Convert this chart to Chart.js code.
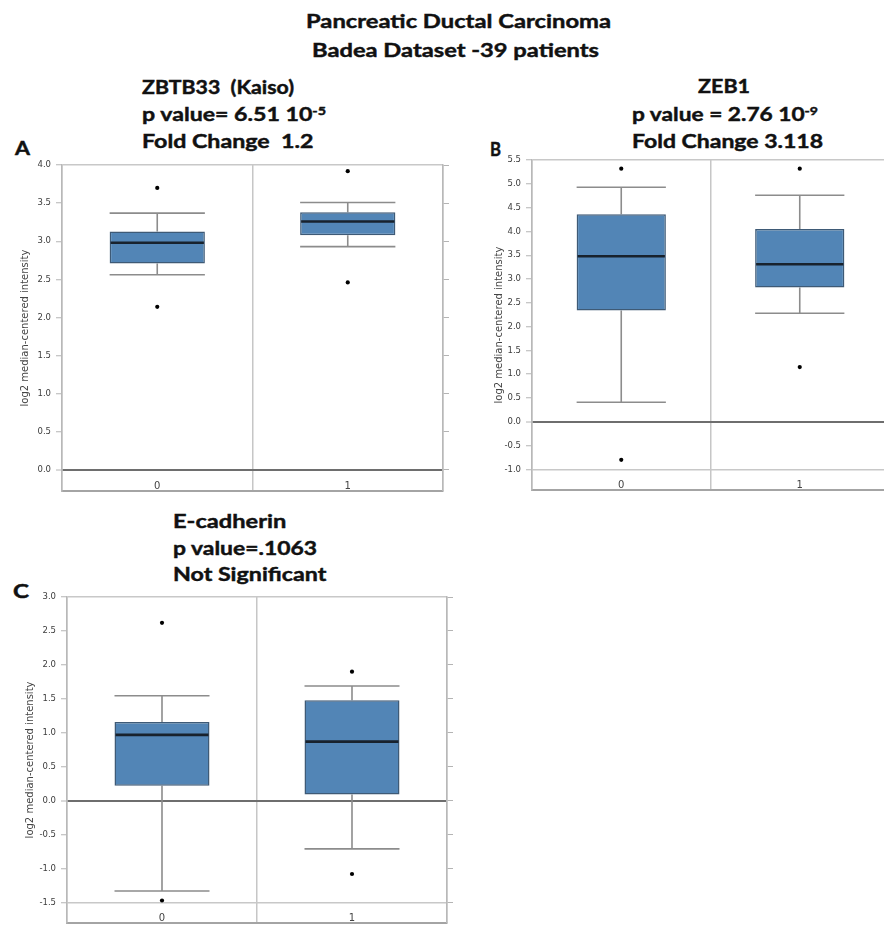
<!DOCTYPE html>
<html>
<head>
<meta charset="utf-8">
<script src="https://cdn.jsdelivr.net/npm/chart.js@4.4.1/dist/chart.umd.min.js"></script>
<style>
  html, body { margin: 0; padding: 0; background: #ffffff; overflow: hidden; }
  body { width: 884px; height: 927px; position: relative; }
  canvas { position: absolute; }
  .t { position: absolute; white-space: nowrap; font-family: Lato, "Open Sans", sans-serif; font-weight: 700;
       font-size: 19.5px; line-height: 1.2; color: #111; transform-origin: 0 0;
       -webkit-text-stroke: 0.45px #111; }
  .t sup { font-size: 0.62em; vertical-align: 0.5em; line-height: 1; }
  .L { font-size: 18px; color: #111; }
</style>
</head>
<body>
<div class="t" data-x="306" data-b="28" data-w="305">Pancreatic Ductal Carcinoma</div>
<div class="t" data-x="312" data-b="57" data-w="287">Badea Dataset -39 patients</div>

<div class="t" data-x="141.5" data-b="94" data-w="152">ZBTB33&nbsp; (Kaiso)</div>
<div class="t" data-x="141.5" data-b="121" data-w="184">p value= 6.51 10<sup>-5</sup></div>
<div class="t" data-x="141.5" data-b="148" data-w="171.5">Fold Change&nbsp; 1.2</div>

<div class="t" data-x="698" data-b="93" data-w="52">ZEB1</div>
<div class="t" data-x="632" data-b="121" data-w="186">p value = 2.76 10<sup>-9</sup></div>
<div class="t" data-x="632" data-b="148" data-w="191">Fold Change 3.118</div>

<div class="t" data-x="172.7" data-b="528.3" data-w="113.3">E-cadherin</div>
<div class="t" data-x="172.7" data-b="555" data-w="144">p value=.1063</div>
<div class="t" data-x="172.7" data-b="580.7" data-w="153.3">Not Significant</div>

<div class="t L" data-x="15" data-b="155" data-w="15">A</div>
<div class="t L" data-x="490" data-b="156" data-w="11">B</div>
<div class="t L" data-x="13" data-b="598" data-w="16">C</div>

<canvas id="cA" width="455" height="346" style="left:0px; top:155px;"></canvas>
<canvas id="cB" width="432" height="350" style="left:470px; top:150px;"></canvas>
<canvas id="cC" width="460" height="348" style="left:0px; top:585px;"></canvas>

<script>
// ---------------- DATA ----------------
const categories = ['0', '1'];
const yTitle = 'log2 median-centered intensity';

// Panel A: ZBTB33 (Kaiso)
const aQ1     = [2.71, 3.08];
const aQ3     = [3.13, 3.38];
const aMedian = [2.98, 3.26];
const aLow    = [2.56, 2.93];
const aHigh   = [3.37, 3.51];
const aOutHi  = [3.70, 3.92];
const aOutLo  = [2.14, 2.46];
const aTicks  = [0.0, 0.5, 1.0, 1.5, 2.0, 2.5, 3.0, 3.5, 4.0];

// Panel B: ZEB1
const bQ1     = [2.34, 2.82];
const bQ3     = [4.36, 4.05];
const bMedian = [3.48, 3.31];
const bLow    = [0.41, 2.28];
const bHigh   = [4.93, 4.76];
const bOutHi  = [5.32, 5.32];
const bOutLo  = [-0.80, 1.15];
const bTicks  = [-1.0, -0.5, 0.0, 0.5, 1.0, 1.5, 2.0, 2.5, 3.0, 3.5, 4.0, 4.5, 5.0, 5.5];

// Panel C: E-cadherin
const cQ1     = [0.22, 0.09];
const cQ3     = [1.16, 1.48];
const cMedian = [0.97, 0.87];
const cLow    = [-1.33, -0.71];
const cHigh   = [1.545, 1.69];
const cOutHi  = [2.62, 1.90];
const cOutLo  = [-1.47, -1.08];
const cTicks  = [-1.5, -1.0, -0.5, 0.0, 0.5, 1.0, 1.5, 2.0, 2.5, 3.0];

// ---------------- TEXT PLACEMENT ----------------
document.querySelectorAll('.t').forEach(el => {
  const probe = document.createElement('span');
  probe.style.cssText = 'display:inline-block;width:0;height:0;vertical-align:baseline;';
  el.appendChild(probe);
  el.style.left = '0px'; el.style.top = '0px';
  const r0 = el.getBoundingClientRect();
  const baseOff = probe.getBoundingClientRect().top - r0.top;
  el.removeChild(probe);
  const w = el.getBoundingClientRect().width;
  el.style.left = el.dataset.x + 'px';
  el.style.top = (parseFloat(el.dataset.b) - baseOff) + 'px';
  el.style.transform = 'scaleX(' + (parseFloat(el.dataset.w) / w) + ')';
});

// ---------------- CHARTS ----------------
function boxChart(id, d) {
  const whiskers = {
    id: 'whiskers_' + id,
    beforeDatasetsDraw(chart) {
      const ctx = chart.ctx, y = chart.scales.y;
      const meta = chart.getDatasetMeta(0);
      ctx.save();
      ctx.strokeStyle = '#8c8c8c';
      ctx.lineWidth = 1.6;
      meta.data.forEach((bar, i) => {
        const x = bar.x, h = bar.width / 2;
        const yHi = y.getPixelForValue(d.high[i]);
        const yLo = y.getPixelForValue(d.low[i]);
        const yQ3 = y.getPixelForValue(d.q3[i]);
        const yQ1 = y.getPixelForValue(d.q1[i]);
        ctx.beginPath();
        ctx.moveTo(x, yQ3); ctx.lineTo(x, yHi);
        ctx.moveTo(x, yQ1); ctx.lineTo(x, yLo);
        ctx.moveTo(x - h, yHi); ctx.lineTo(x + h, yHi);
        ctx.moveTo(x - h, yLo); ctx.lineTo(x + h, yLo);
        ctx.stroke();
      });
      ctx.restore();
    },
    afterDatasetDraw(chart, args) {
      if (args.index !== 0) return;
      const ctx = chart.ctx, y = chart.scales.y;
      const meta = chart.getDatasetMeta(0);
      ctx.save();
      ctx.strokeStyle = '#18222d';
      ctx.lineWidth = 2.6;
      meta.data.forEach((bar, i) => {
        const ym = y.getPixelForValue(d.median[i]);
        ctx.beginPath();
        ctx.moveTo(bar.x - bar.width / 2 + 1, ym);
        ctx.lineTo(bar.x + bar.width / 2 - 1, ym);
        ctx.stroke();
      });
      ctx.restore();
    }
  };

  const first = d.ticks[0], last = d.ticks[d.ticks.length - 1];
  const setTicks = s => { s.ticks = d.ticks.map(v => ({ value: v })); };

  new Chart(document.getElementById(id), {
    type: 'bar',
    data: {
      labels: categories,
      datasets: [
        {
          data: categories.map((_, i) => [d.q1[i], d.q3[i]]),
          backgroundColor: '#5285b6',
          borderColor: '#3e5a76',
          borderWidth: 1.5,
          borderSkipped: false,
          barPercentage: 0.5,
          categoryPercentage: 1.0
        },
        {
          type: 'line', data: d.outHi, showLine: false,
          pointRadius: 2.1, pointBackgroundColor: '#000', pointBorderWidth: 0
        },
        {
          type: 'line', data: d.outLo, showLine: false,
          pointRadius: 2.1, pointBackgroundColor: '#000', pointBorderWidth: 0
        }
      ]
    },
    options: {
      responsive: false,
      animation: false,
      devicePixelRatio: 1,
      layout: { padding: { top: d.padTop, left: 0, right: 0, bottom: 0 } },
      plugins: { legend: { display: false }, tooltip: { enabled: false } },
      scales: {
        x: {
          type: 'category',
          offset: true,
          grid: { offset: true, color: '#c6c6c6', lineWidth: 1.5, drawTicks: false },
          border: { display: true, color: '#a4a4a4', width: 2 },
          ticks: { mirror: true, padding: -2, autoSkip: false, maxRotation: 0,
                   color: '#444', font: { family: 'DejaVu Sans', size: 10 } },
          afterFit: s => { s.height = 8; }
        },
        y: {
          type: 'linear',
          min: d.min, max: d.max,
          afterBuildTicks: setTicks,
          afterFit: s => { s.width = d.yWidth; },
          grid: {
            drawTicks: true, tickLength: 6, tickColor: '#b4b4b4', tickWidth: 1,
            color: c => (c.tick && c.tick.value === 0) ? '#6e6e6e'
                      : (c.tick && (c.tick.value === first || c.tick.value === last)) ? '#c8c8c8'
                      : 'rgba(0,0,0,0)',
            lineWidth: c => (c.tick && c.tick.value === 0) ? 2 : 1.5
          },
          border: { display: true, color: '#b8b8b8', width: 1.5 },
          ticks: {
            padding: 5, color: '#3c3c3c',
            font: { family: 'DejaVu Sans', size: 8.5 },
            callback: v => Number(v).toFixed(1)
          },
          title: {
            display: true, text: yTitle, color: '#444',
            font: { family: 'DejaVu Sans', size: 10 },
            padding: { top: d.titlePad, bottom: 0 }
          }
        },
        y2: {
          type: 'linear', position: 'right',
          min: d.min, max: d.max,
          afterBuildTicks: setTicks,
          afterFit: s => { s.width = d.y2Width; },
          grid: { drawOnChartArea: false, drawTicks: true, tickLength: 6, tickColor: '#b4b4b4', tickWidth: 1 },
          border: { display: true, color: '#b8b8b8', width: 1.5 },
          ticks: { display: false }
        }
      }
    },
    plugins: [whiskers]
  });
}

boxChart('cA', { q1: aQ1, q3: aQ3, median: aMedian, low: aLow, high: aHigh, outHi: aOutHi, outLo: aOutLo,
  ticks: aTicks, min: -0.276, max: 4.0, padTop: 8, yWidth: 62, y2Width: 12, titlePad: 19 });
boxChart('cB', { q1: bQ1, q3: bQ3, median: bMedian, low: bLow, high: bHigh, outHi: bOutHi, outLo: bOutLo,
  ticks: bTicks, min: -1.432, max: 5.5, padTop: 8, yWidth: 62, y2Width: 13, titlePad: 23 });
boxChart('cC', { q1: cQ1, q3: cQ3, median: cMedian, low: cLow, high: cHigh, outHi: cOutHi, outLo: cOutLo,
  ticks: cTicks, min: -1.80, max: 3.0, padTop: 12, yWidth: 67, y2Width: 13, titlePad: 24 });
</script>
</body>
</html>
